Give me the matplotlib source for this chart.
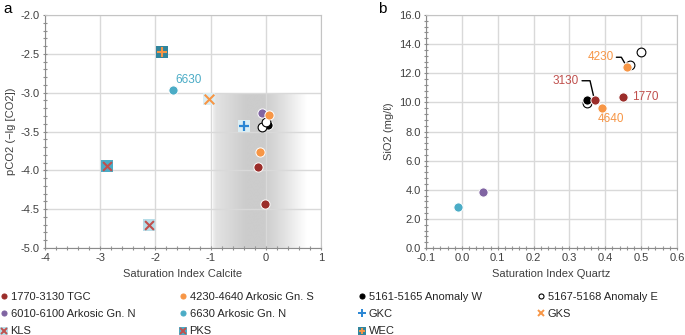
import numpy as np
import matplotlib
matplotlib.use("Agg")
import matplotlib.pyplot as plt
from matplotlib.lines import Line2D
from matplotlib.ticker import MultipleLocator, FormatStrFormatter

plt.rcParams['font.family'] = ['Liberation Sans', 'DejaVu Sans']
plt.rcParams['axes.unicode_minus'] = False
plt.rcParams['font.size'] = 8

# ---------------- data ----------------
# Panel a: Saturation Index Calcite vs pCO2
tgc_si_cal = [-0.135, -0.01]
tgc_pco2 = [-3.96, -4.43]
ark_s_si_cal = [0.05, -0.11]
ark_s_pco2 = [-3.29, -3.77]
ark_n_si_cal = [-0.075]
ark_n_pco2 = [-3.26]
n6630_si_cal = [-1.68]
n6630_pco2 = [-2.96]
anomW_si_cal = [0.034]
anomW_pco2 = [-3.42]
anomE_si_cal = [-0.06, 0.0]
anomE_pco2 = [-3.44, -3.38]
gkc_si_cal, gkc_pco2 = [-0.395], [-3.43]
gks_si_cal, gks_pco2 = [-1.03], [-3.08]
kls_si_cal, kls_pco2 = [-2.11], [-4.70]
pks_si_cal, pks_pco2 = [-2.88], [-3.95]
wec_si_cal, wec_pco2 = [-1.875], [-2.48]

# Panel b: Saturation Index Quartz vs SiO2
tgc_si_q = [0.45, 0.37]
tgc_sio2 = [10.4, 10.15]
tgc_labels = ["1770", "3130"]
ark_s_si_q = [0.46, 0.39]
ark_s_sio2 = [12.45, 9.64]
ark_s_labels = ["4230", "4640"]
ark_n_si_q = [0.06]
ark_n_sio2 = [3.85]
n6630_si_q = [-0.01]
n6630_sio2 = [2.82]
anomW_si_q = [0.35]
anomW_sio2 = [10.15]
anomE_si_q = [0.35, 0.47, 0.50]
anomE_sio2 = [9.95, 12.57, 13.44]

legend_labels = ["1770-3130 TGC", "4230-4640 Arkosic Gn. S", "5161-5165 Anomaly W",
                 "5167-5168 Anomaly E", "6010-6100 Arkosic Gn. N", "6630 Arkosic Gn. N",
                 "GKC", "GKS", "KLS", "PKS", "WEC"]

# ---------------- styles ----------------
C_TGC = '#9b2d2a'
C_ORG = '#f79646'
C_PUR = '#8064a2'
C_CYN = '#4bacc6'
C_RED = '#c0504d'
C_BLU = '#2a86d4'
C_LBL = '#dbeef4'
C_KLS = '#b7dde8'
C_WEC = '#31859c'
TXT = '#404040'

fig = plt.figure(figsize=(6.85, 3.35), dpi=100)
ax1 = fig.add_axes([45/685, 1-248/335, 276/685, 233/335])
ax2 = fig.add_axes([426/685, 1-248/335, 251/685, 233/335])

for ax in (ax1, ax2):
    ax.set_axisbelow(True)
    ax.grid(True, which='major', color='#d9d9d9', lw=1)
    for s in ('left', 'bottom'):
        ax.spines[s].set_color('#8c8c8c')
    for s in ('top', 'right'):
        ax.spines[s].set_color('#c4c4c4')
    ax.tick_params(which='both', direction='inout', color='#8c8c8c', labelcolor=TXT,
                   labelsize=8, length=3.5, width=0.8, pad=2)

CIRC = dict(marker='o', s=44, edgecolors='white', linewidths=0.7, zorder=4)
SQ = dict(marker='s', s=64, linewidths=0, zorder=3)

# ---- panel a ----
ax1.set_xlim(-4, 1)
ax1.set_ylim(-5, -2)
ax1.xaxis.set_major_locator(MultipleLocator(1))
ax1.xaxis.set_minor_locator(MultipleLocator(0.2))
ax1.yaxis.set_major_locator(MultipleLocator(0.5))
ax1.yaxis.set_minor_locator(MultipleLocator(0.1))
ax1.xaxis.set_major_formatter(FormatStrFormatter('%d'))
ax1.yaxis.set_major_formatter(FormatStrFormatter('%.1f'))

# shaded gradient region
gx = np.linspace(0, 1, 300)
shade = np.interp(gx, [0, 0.03, 0.35, 0.55, 0.75, 1.0], [0.94, 0.89, 0.80, 0.80, 0.88, 1.0])
img = np.zeros((1, gx.size, 4))
img[..., 0] = shade
img[..., 1] = shade
img[..., 2] = shade
img[..., 3] = 1.0
ax1.imshow(img, extent=[-0.95, 0.75, -5, -3.03], aspect='auto', zorder=0.3,
           interpolation='bilinear')
ax1.set_xlim(-4, 1)
ax1.set_ylim(-5, -2)

ax1.scatter(wec_si_cal, wec_pco2, color=C_WEC, **SQ)
ax1.scatter(wec_si_cal, wec_pco2, marker='+', s=48, color=C_ORG, linewidths=1.5, zorder=5)
ax1.scatter(pks_si_cal, pks_pco2, color=C_CYN, **SQ)
ax1.scatter(pks_si_cal, pks_pco2, marker='x', s=40, color=C_RED, linewidths=1.5, zorder=5)
ax1.scatter(kls_si_cal, kls_pco2, color=C_KLS, **SQ)
ax1.scatter(kls_si_cal, kls_pco2, marker='x', s=40, color=C_RED, linewidths=1.5, zorder=5)
ax1.scatter(gks_si_cal, gks_pco2, color=C_LBL, **SQ)
ax1.scatter(gks_si_cal, gks_pco2, marker='x', s=48, color=C_ORG, linewidths=1.5, zorder=5)
ax1.scatter(gkc_si_cal, gkc_pco2, color=C_LBL, **SQ)
ax1.scatter(gkc_si_cal, gkc_pco2, marker='+', s=56, color=C_BLU, linewidths=1.6, zorder=5)

ax1.scatter(n6630_si_cal, n6630_pco2, color=C_CYN, **CIRC)
ax1.scatter(anomW_si_cal, anomW_pco2, color='black', **CIRC)
ax1.scatter(anomE_si_cal, anomE_pco2, marker='o', s=40, facecolors='white',
            edgecolors='black', linewidths=0.8, zorder=4)
ax1.scatter(ark_n_si_cal, ark_n_pco2, color=C_PUR, **CIRC)
ax1.scatter(ark_s_si_cal, ark_s_pco2, color=C_ORG, **CIRC)
ax1.scatter(tgc_si_cal, tgc_pco2, color=C_TGC, **CIRC)

ax1.annotate("6630", (n6630_si_cal[0], n6630_pco2[0]), xytext=(1.5, 7),
             textcoords='offset points', ha='left', va='center', color=C_CYN, fontsize=8.5)

ax1.set_xlabel("Saturation Index Calcite", color=TXT, fontsize=8, labelpad=4)
ax1.set_ylabel("pCO2 (\u2212lg [CO2])", color=TXT, fontsize=8, labelpad=3)

# ---- panel b ----
ax2.set_xlim(-0.1, 0.6)
ax2.set_ylim(0, 16)
ax2.xaxis.set_major_locator(MultipleLocator(0.1))
ax2.xaxis.set_minor_locator(MultipleLocator(0.02))
ax2.yaxis.set_major_locator(MultipleLocator(2))
ax2.yaxis.set_minor_locator(MultipleLocator(0.4))
ax2.xaxis.set_major_formatter(FormatStrFormatter('%.1f'))
ax2.yaxis.set_major_formatter(FormatStrFormatter('%.1f'))

ax2.scatter(n6630_si_q, n6630_sio2, color=C_CYN, **CIRC)
ax2.scatter(ark_n_si_q, ark_n_sio2, color=C_PUR, **CIRC)
ax2.scatter(anomE_si_q, anomE_sio2, marker='o', s=40, facecolors='white',
            edgecolors='black', linewidths=0.8, zorder=4)
ax2.scatter(anomW_si_q, anomW_sio2, color='black', **CIRC)
ax2.scatter(ark_s_si_q, ark_s_sio2, color=C_ORG, **CIRC)
ax2.scatter(tgc_si_q, tgc_sio2, color=C_TGC, **CIRC)

# labels
ax2.annotate(tgc_labels[0], (tgc_si_q[0], tgc_sio2[0]), xytext=(6.5, 0),
             textcoords='offset points', ha='left', va='center', color=C_RED, fontsize=8.5)
ax2.annotate(tgc_labels[1], (tgc_si_q[1], tgc_sio2[1]), xytext=(-11, 14),
             textcoords='offset points', ha='right', va='center', color=C_RED, fontsize=8.5,
             arrowprops=dict(arrowstyle='-', color='black', lw=1,
                             connectionstyle='angle,angleA=0,angleB=103,rad=0',
                             shrinkA=0, shrinkB=3, relpos=(1, 0.5)))
ax2.annotate(ark_s_labels[0], (ark_s_si_q[0], ark_s_sio2[0]), xytext=(-9.5, 6.8),
             textcoords='offset points', ha='right', va='center', color=C_ORG, fontsize=8.5,
             arrowprops=dict(arrowstyle='-', color='black', lw=1,
                             connectionstyle='angle,angleA=0,angleB=120,rad=0',
                             shrinkA=0, shrinkB=2, relpos=(1, 0.5)))
ax2.annotate(ark_s_labels[1], (ark_s_si_q[1], ark_s_sio2[1]), xytext=(7, -8.4),
             textcoords='offset points', ha='center', va='center', color=C_ORG, fontsize=8.5)

ax2.set_xlabel("Saturation Index Quartz", color=TXT, fontsize=8, labelpad=4)
ax2.set_ylabel("SiO2 (mg/\u2113)", color=TXT, fontsize=8, labelpad=4)

# panel letters
fig.text(3/685, 1-9/335, "a", fontsize=11, va='center', ha='left', color='black')
fig.text(378/685, 1-9/335, "b", fontsize=11, va='center', ha='left', color='black')

# ---------------- legends ----------------
def circ(c, ec=None, fc=None):
    return Line2D([], [], ls='', marker='o', markersize=3.6,
                  markerfacecolor=fc if fc is not None else c,
                  markeredgecolor=ec if ec is not None else c, markeredgewidth=0.8)

def sqr(c):
    return Line2D([], [], ls='', marker='s', markersize=6, markerfacecolor=c,
                  markeredgewidth=0)

def sym(m, c, ms=5.5):
    return Line2D([], [], ls='', marker=m, markersize=ms, color=c, markeredgewidth=1.4)

h = {
    legend_labels[0]: circ(C_TGC),
    legend_labels[1]: circ(C_ORG),
    legend_labels[2]: circ('black'),
    legend_labels[3]: circ('black', ec='black', fc='white'),
    legend_labels[4]: circ(C_PUR),
    legend_labels[5]: circ(C_CYN),
    legend_labels[6]: sym('+', C_BLU, 6),
    legend_labels[7]: sym('x', C_ORG, 5),
    legend_labels[8]: (sqr(C_KLS), sym('x', C_RED, 4.5)),
    legend_labels[9]: (sqr(C_CYN), sym('x', C_RED, 4.5)),
    legend_labels[10]: (sqr(C_WEC), sym('+', C_ORG, 5)),
}
columns = [
    [legend_labels[0], legend_labels[4], legend_labels[8]],
    [legend_labels[1], legend_labels[5], legend_labels[9]],
    [legend_labels[2], legend_labels[6], legend_labels[10]],
    [legend_labels[3], legend_labels[7]],
]
col_x = [0.0, 179/685, 358/685, 537/685]
for labs, x in zip(columns, col_x):
    fig.legend([h[l] for l in labs], labs, loc='upper left', bbox_to_anchor=(x, 1-291.5/335),
               frameon=False, fontsize=8, handlelength=0.8, handletextpad=0.15,
               borderpad=0, borderaxespad=0, labelspacing=0.67, labelcolor='#262626')

fig.savefig("out.png", dpi=100)
